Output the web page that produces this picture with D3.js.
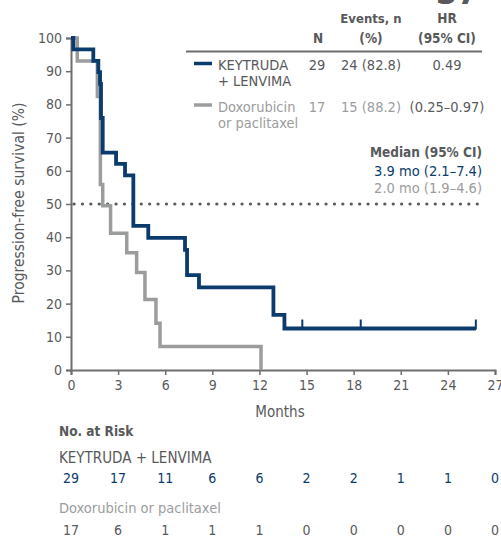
<!DOCTYPE html>
<html lang="en"><head><meta charset="UTF-8">
<title>PFS Kaplan-Meier</title>
<script src="https://cdn.jsdelivr.net/npm/d3@7"></script>
<style>
  body { margin:0; background:#fff; }
  svg text { font-family: "DejaVu Sans Condensed", "Roboto", sans-serif; }
</style>
</head>
<body>
<div id="chart"></div>
<script>
// KM steps (months, % surviving)
const keyTimes = [0, 0.15, 1.42, 1.74, 1.85, 1.91, 2.02, 2.87, 3.44, 3.97, 4.92, 7.26, 7.39, 8.15, 12.89, 13.59];
const keySurv  = [100, 96.6, 93.1, 89.7, 86.2, 75.9, 65.5, 62.1, 58.6, 43.4, 39.8, 36.2, 28.6, 24.9, 16.6, 12.5];
const keyEnd = 25.78;
const keyCensor = [14.73, 18.45, 25.78];

const doxTimes = [0, 0.4, 1.68, 1.87, 2.02, 2.52, 3.55, 4.18, 4.71, 5.41, 5.67, 12.1];
const doxSurv  = [100, 93.1, 82.4, 55.9, 49.5, 41.2, 35.3, 29.4, 21.2, 14.1, 7.1, 0];

const xTicks = [0, 3, 6, 9, 12, 15, 18, 21, 24, 27];
const yTicks = [0, 10, 20, 30, 40, 50, 60, 70, 80, 90, 100];
const riskKey = [29, 17, 11, 6, 6, 2, 2, 1, 1, 0];
const riskDox = [17, 6, 1, 1, 1, 0, 0, 0, 0, 0];

const navy = "#0b3b6d", grey = "#9b9c9e", dark = "#58595b";

const svg = d3.select("#chart").append("svg")
    .attr("width", 501).attr("height", 538);

const x = d3.scaleLinear().domain([0, 27]).range([71, 495]);
const y = d3.scaleLinear().domain([0, 100]).range([370, 38]);

// axes
const yAxis = svg.append("g").attr("transform", "translate(71,0)")
    .call(d3.axisLeft(y).tickValues(yTicks).tickSize(5).tickPadding(4));
const xAxis = svg.append("g").attr("transform", "translate(0,370)")
    .call(d3.axisBottom(x).tickValues(xTicks).tickSize(5).tickPadding(5));
[yAxis, xAxis].forEach(a => {
  a.select(".domain").attr("stroke", "#6d6e70").attr("stroke-width", 2);
  a.selectAll(".tick line").attr("stroke", "#6d6e70").attr("stroke-width", 1.5);
  a.selectAll("text").attr("fill", dark).style("font-size", "14px");
});

svg.append("text")
    .attr("transform", "translate(24,203) rotate(-90)")
    .attr("text-anchor", "middle").attr("fill", dark).style("font-size", "15.5px")
    .text("Progression-free survival (%)");
svg.append("text").attr("x", 280).attr("y", 417).attr("text-anchor", "middle")
    .attr("fill", dark).style("font-size", "15px").text("Months");

// median reference line
svg.append("line")
    .attr("x1", x(0) + 3).attr("x2", x(26)).attr("y1", y(50)).attr("y2", y(50))
    .attr("stroke", "#5a5b5d").attr("stroke-width", 3.2)
    .attr("stroke-linecap", "round").attr("stroke-dasharray", "0.1 8.3");

const step = d3.line().x(d => x(d[0])).y(d => y(d[1])).curve(d3.curveStepAfter);

let doxPts = doxTimes.map((t, i) => [t, doxSurv[i]]);
svg.append("path").datum(doxPts).attr("d", step)
    .attr("fill", "none").attr("stroke", grey).attr("stroke-width", 3.5);

let keyPts = keyTimes.map((t, i) => [t, keySurv[i]]);
keyPts.push([keyEnd, keySurv[keySurv.length - 1]]);
svg.append("path").datum(keyPts).attr("d", step)
    .attr("fill", "none").attr("stroke", navy).attr("stroke-width", 3.8);

svg.selectAll(".cens").data(keyCensor).enter().append("line")
    .attr("x1", d => x(d)).attr("x2", d => x(d))
    .attr("y1", y(12.5) + 1).attr("y2", y(12.5) - 9)
    .attr("stroke", navy).attr("stroke-width", 2);

// legend table
const lg = svg.append("g");
function txt(px, py, s, opt) {
  opt = opt || {};
  return lg.append("text").attr("x", px).attr("y", py)
    .attr("text-anchor", opt.anchor || "start")
    .attr("fill", opt.fill || dark)
    .style("font-size", (opt.size || 14.5) + "px")
    .style("font-weight", opt.bold ? "bold" : "normal")
    .text(s);
}
txt(318, 43, "N", {anchor: "middle", bold: true, size: 13.5});
txt(371, 23, "Events, n", {anchor: "middle", bold: true, size: 13});
txt(371, 43, "(%)", {anchor: "middle", bold: true, size: 13.5});
txt(447, 23, "HR", {anchor: "middle", bold: true, size: 13.5});
txt(447, 43, "(95% CI)", {anchor: "middle", bold: true, size: 13.5});
lg.append("line").attr("x1", 186).attr("x2", 482).attr("y1", 51.5).attr("y2", 51.5)
    .attr("stroke", "#6d6e70").attr("stroke-width", 2);

lg.append("line").attr("x1", 194).attr("x2", 212).attr("y1", 63.5).attr("y2", 63.5)
    .attr("stroke", navy).attr("stroke-width", 3.5);
txt(218, 70, "KEYTRUDA");
txt(218, 86, "+ LENVIMA");
txt(317, 70, "29", {anchor: "middle"});
txt(371, 70, "24 (82.8)", {anchor: "middle"});
txt(447, 70, "0.49", {anchor: "middle"});

lg.append("line").attr("x1", 194).attr("x2", 212).attr("y1", 105).attr("y2", 105)
    .attr("stroke", grey).attr("stroke-width", 3.5);
txt(218, 112, "Doxorubicin", {fill: grey});
txt(218, 128, "or paclitaxel", {fill: grey});
txt(317, 112, "17", {anchor: "middle", fill: grey});
txt(371, 112, "15 (88.2)", {anchor: "middle", fill: grey});
txt(447, 112, "(0.25\u20130.97)", {anchor: "middle"});

txt(482, 157, "Median (95% CI)", {anchor: "end", bold: true, size: 13.5});
txt(482, 176, "3.9 mo (2.1\u20137.4)", {anchor: "end", fill: navy});
txt(482, 193, "2.0 mo (1.9\u20134.6)", {anchor: "end", fill: grey});

// cut-off figure number at top right
txt(436, 4, "37", {size: 34, bold: true});

// number at risk
txt(59, 436, "No. at Risk", {bold: true, size: 13.5});
txt(59, 463, "KEYTRUDA + LENVIMA", {size: 15});
txt(59, 513, "Doxorubicin or paclitaxel", {fill: grey});
svg.selectAll(".rk").data(riskKey).enter().append("text")
    .attr("x", (d, i) => x(xTicks[i])).attr("y", 483).attr("text-anchor", "middle")
    .attr("fill", navy).style("font-size", "14px").text(d => d);
svg.selectAll(".rd").data(riskDox).enter().append("text")
    .attr("x", (d, i) => x(xTicks[i])).attr("y", 535).attr("text-anchor", "middle")
    .attr("fill", dark).style("font-size", "14px").text(d => d);
</script>
</body></html>
